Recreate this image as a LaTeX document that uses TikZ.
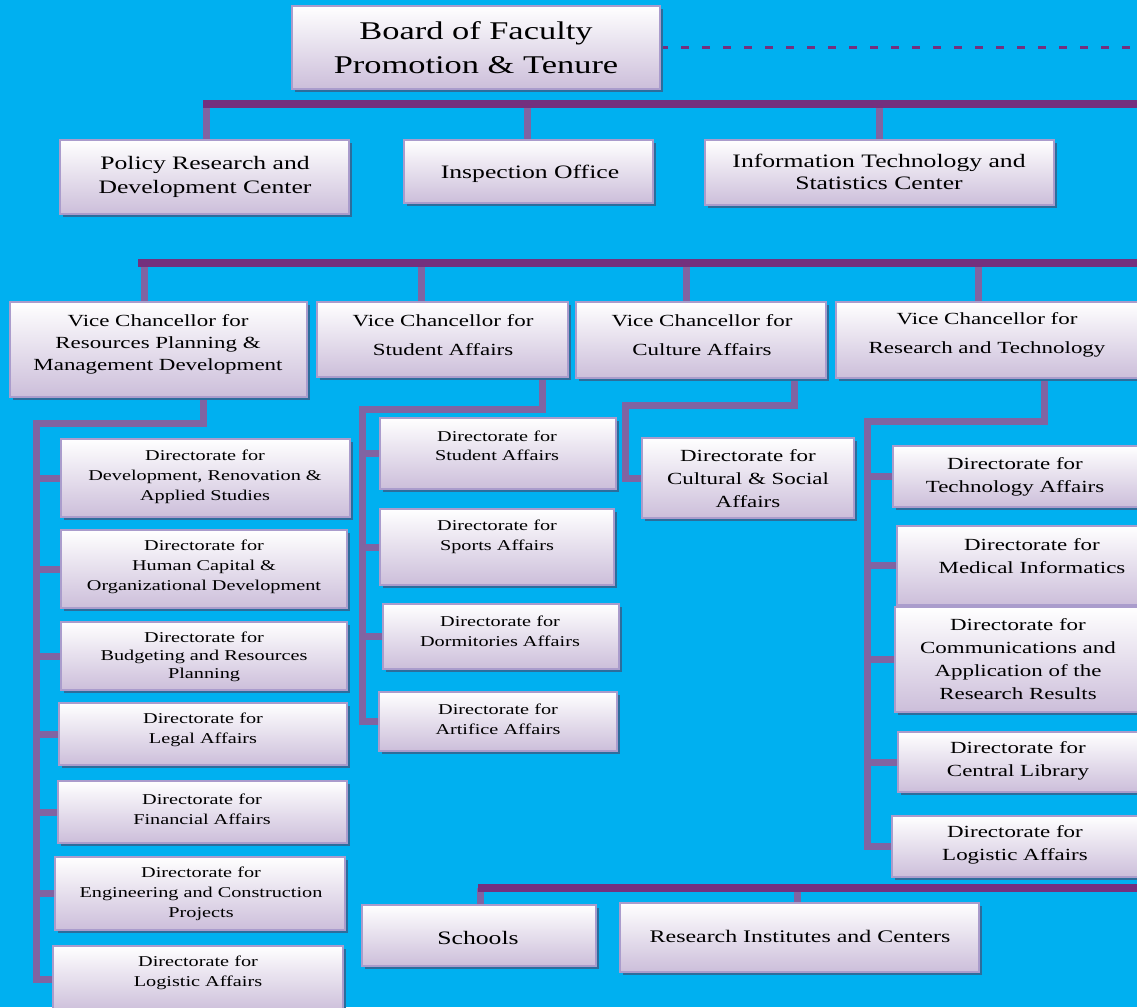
\documentclass[tikz,border=0pt]{standalone}
\usepackage{fontspec}
\setmainfont{Liberation Serif}[FakeStretch=1.35]
\usetikzlibrary{shadows}
\definecolor{bgc}{HTML}{00B0F0}
\definecolor{busc}{HTML}{74307E}
\definecolor{brc}{HTML}{8064A2}
\definecolor{bordc}{HTML}{AA9CCC}
\definecolor{boxbot}{HTML}{CCBEDA}
\definecolor{shc}{HTML}{2C6D9C}
\pgfdeclarelayer{bglayer}
\pgfsetlayers{bglayer,main}
\newcommand{\myfs}[2]{\fontsize{#1}{#2}\selectfont}
\newcommand{\obox}[5]{\node[orgbox, minimum width={(#4-#2)*1pt}, minimum height={(#5-#3)*1pt}] (#1) at (#2,#3) {};}
\tikzset{
  orgbox/.style={draw=bordc, line width=2pt, top color=white, bottom color=boxbot,
    inner sep=0pt, outer sep=0pt, anchor=north west,
    drop shadow={shadow xshift=3pt, shadow yshift=-3pt, fill=shc, opacity=1}},
  txt/.style={align=center, inner sep=0pt, text=black},
  busline/.style={draw=busc, line width=8pt},
  branch/.style={draw=brc, line width=7pt, line join=miter},
  branchend/.style={branch, line cap=rect},
  dashline/.style={draw=busc, line width=2.5pt, dash pattern=on 8pt off 13pt},
}
\begin{document}
\begin{tikzpicture}[x=1pt,y=-1pt]
\useasboundingbox (0,0) rectangle (1137,1007);
% boxes
\obox{brd}{292}{6}{660}{89}
\obox{pol}{60}{140}{349}{214}
\obox{ins}{404}{140}{653}{203}
\obox{it}{705}{140}{1054}{205}
\obox{vcr}{10}{302}{307}{397}
\obox{vcs}{317}{302}{568}{377}
\obox{vcc}{576}{302}{826}{378}
\obox{vct}{836}{302}{1142}{378}
\obox{d1}{61}{439}{350}{517}
\obox{d2}{61}{530}{347}{608}
\obox{d3}{61}{622}{347}{690}
\obox{d4}{59}{703}{347}{765}
\obox{d5}{58}{781}{347}{843}
\obox{d6}{55}{857}{345}{930}
\obox{d7}{53}{946}{343}{1012}
\obox{s1}{380}{418}{616}{489}
\obox{s2}{380}{509}{614}{585}
\obox{s3}{383}{604}{619}{669}
\obox{s4}{379}{692}{617}{751}
\obox{c1}{642}{438}{854}{518}
\obox{r1}{893}{446}{1142}{507}
\obox{r2}{897}{526}{1142}{605}
\obox{r3}{895}{607}{1142}{712}
\obox{r4}{898}{732}{1142}{792}
\obox{r5}{892}{816}{1142}{877}
\obox{sch}{362}{905}{596}{966}
\obox{ri}{620}{903}{979}{972}
% texts
\node[txt, font=\myfs{25.5}{34}] (brd-t) at (476,48) {Board of Faculty\\Promotion \& Tenure};
\node[txt, font=\myfs{19}{24}] (pol-t) at (205,177) {Policy Research and\\Development Center};
\node[txt, font=\myfs{19}{24}] (ins-t) at (530,174) {Inspection Office};
\node[txt, font=\myfs{19}{22}] (it-t) at (879,172) {Information Technology and\\Statistics Center};
\node[txt, font=\myfs{17}{22}] (vcr-t) at (158,344) {Vice Chancellor for\\Resources Planning \&\\Management Development};
\node[txt, font=\myfs{17}{29}] (vcs-t) at (443,335) {Vice Chancellor for\\Student Affairs};
\node[txt, font=\myfs{17}{29}] (vcc-t) at (702,335) {Vice Chancellor for\\Culture Affairs};
\node[txt, font=\myfs{17}{29}] (vct-t) at (987,335) {Vice Chancellor for\\Research and Technology};
\node[txt, font=\myfs{15}{20}] (d1-t) at (205,477) {Directorate for\\Development, Renovation \&\\Applied Studies};
\node[txt, font=\myfs{15}{20}] (d2-t) at (204,567) {Directorate for\\Human Capital \&\\Organizational Development};
\node[txt, font=\myfs{15}{18}] (d3-t) at (204,657) {Directorate for\\Budgeting and Resources\\Planning};
\node[txt, font=\myfs{15}{20}] (d4-t) at (203,730) {Directorate for\\Legal Affairs};
\node[txt, font=\myfs{15}{20}] (d5-t) at (202,809) {Directorate for\\Financial Affairs};
\node[txt, font=\myfs{15}{20}] (d6-t) at (201,894) {Directorate for\\Engineering and Construction\\Projects};
\node[txt, font=\myfs{15}{20}] (d7-t) at (198,973) {Directorate for\\Logistic Affairs};
\node[txt, font=\myfs{15}{19}] (s1-t) at (497,446) {Directorate for\\Student Affairs};
\node[txt, font=\myfs{15}{20}] (s2-t) at (497,537) {Directorate for\\Sports Affairs};
\node[txt, font=\myfs{15}{20}] (s3-t) at (500,631) {Directorate for\\Dormitories Affairs};
\node[txt, font=\myfs{15}{20}] (s4-t) at (498,719) {Directorate for\\Artifice Affairs};
\node[txt, font=\myfs{17}{23}] (c1-t) at (748,479) {Directorate for\\Cultural \& Social\\Affairs};
\node[txt, font=\myfs{17}{23}] (r1-t) at (1015,477) {Directorate for\\Technology Affairs};
\node[txt, font=\myfs{17}{23}] (r2-t) at (1032,556) {Directorate for\\Medical Informatics};
\node[txt, font=\myfs{17}{23}] (r3-t) at (1018,659) {Directorate for\\Communications and\\Application of the\\Research Results};
\node[txt, font=\myfs{17}{23}] (r4-t) at (1018,761) {Directorate for\\Central Library};
\node[txt, font=\myfs{17}{23}] (r5-t) at (1015,845) {Directorate for\\Logistic Affairs};
\node[txt, font=\myfs{19}{24}] (sch-t) at (478,938) {Schools};
\node[txt, font=\myfs{17.7}{24}] (ri-t) at (800,936) {Research Institutes and Centers};
% connector coordinates
\coordinate (dashend) at (1137,45);
\coordinate (busA1) at (203,104);
\coordinate (busA2) at (1137,104);
\coordinate (tA1) at (206,104);
\coordinate (tA2) at (527,104);
\coordinate (tA3) at (879,104);
\coordinate (busB1) at (138,263);
\coordinate (busB2) at (1137,263);
\coordinate (tB1) at (144,263);
\coordinate (tB2) at (421,263);
\coordinate (tB3) at (686,263);
\coordinate (tB4) at (978,263);
\coordinate (lA) at (203,397);
\coordinate (lB) at (36,423.5);
\coordinate (sA) at (542,377);
\coordinate (sB) at (362,409);
\coordinate (cA) at (794,378);
\coordinate (cB) at (625,405);
\coordinate (rA) at (1044,378);
\coordinate (rB) at (867,421);
\coordinate (busC1) at (478,888);
\coordinate (busC2) at (1137,888);
\coordinate (tC1) at (480,888);
\coordinate (tC2) at (797,888);
\begin{pgfonlayer}{bglayer}
\fill[bgc] (0,0) rectangle (1137,1007);
\draw[dashline] (brd.east) -- (brd.east -| dashend);
% stubs from buses
\draw[branch] (tA1) -- (tA1 |- pol.north);
\draw[branch] (tA2) -- (tA2 |- ins.north);
\draw[branch] (tA3) -- (tA3 |- it.north);
\draw[branch] (tB1) -- (tB1 |- vcr.north);
\draw[branch] (tB2) -- (tB2 |- vcs.north);
\draw[branch] (tB3) -- (tB3 |- vcc.north);
\draw[branch] (tB4) -- (tB4 |- vct.north);
\draw[branch] (tC1) -- (tC1 |- sch.north);
\draw[branch] (tC2) -- (tC2 |- ri.north);
\draw[busline] (busA1) -- (busA2);
\draw[busline] (busB1) -- (busB2);
\draw[busline] (busC1) -- (busC2);
% left branch
\draw[branchend] (lA) |- (lB) -- (lB |- d7.west);
\foreach \n in {d1,d2,d3,d4,d5,d6,d7} \draw[branch] (lB |- \n.west) -- (\n.west);
% student branch
\draw[branchend] (sA) |- (sB) -- (sB |- s4.west);
\foreach \n in {s1,s2,s3,s4} \draw[branch] (sB |- \n.west) -- (\n.west);
% culture branch
\draw[branch] (cA) |- (cB) |- (c1.west);
% research branch
\draw[branchend] (rA) |- (rB) -- (rB |- r5.west);
\foreach \n in {r1,r2,r3,r4,r5} \draw[branch] (rB |- \n.west) -- (\n.west);
\end{pgfonlayer}
\end{tikzpicture}
\end{document}
